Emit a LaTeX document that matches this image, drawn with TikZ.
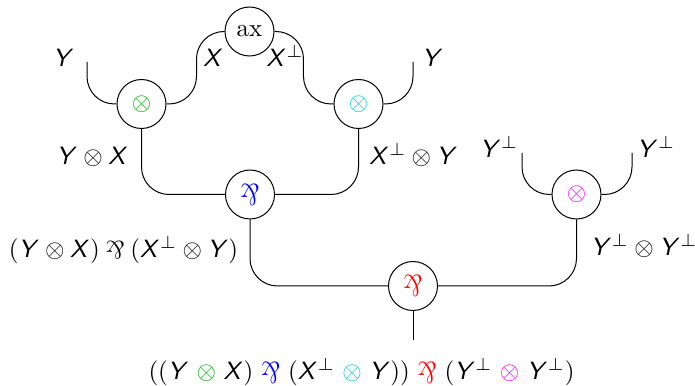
\documentclass[tikz,border=0pt]{standalone}
\usepackage{amsmath}
\usepackage{graphicx}
\DeclareMathAlphabet{\mathsfit}{OT1}{cmss}{m}{sl}
\newcommand\vX{\mathsfit{X}}
\newcommand\vY{\mathsfit{Y}}
\newcommand\mypar{\mathbin{\raisebox{-0.5pt}{\rotatebox[origin=c]{180}{\&}}}}
\newcommand\bigpar{\raisebox{-1.2pt}{\scalebox{1}[1.2]{\rotatebox[origin=c]{180}{\&}}}}
\definecolor{cg}{RGB}{0,180,0}
\definecolor{cc}{RGB}{0,205,205}
\definecolor{cm}{RGB}{255,0,255}
\definecolor{cb}{RGB}{0,0,255}
\definecolor{cr}{RGB}{255,0,0}
\newcommand\cten[1]{\mathbin{\mskip1.5mu\textcolor{#1}{\otimes}\mskip1.5mu}}
\newcommand\cpar[1]{\mathbin{\mskip1.5mu\textcolor{#1}{\bigpar}\mskip1.5mu}}
\tikzset{
  gate/.style={draw, circle, minimum size=19.6pt, inner sep=0pt},
  lab/.style={inner sep=0pt, anchor=base},
  wire/.style={rounded corners=11pt}
}
\begin{document}
\begin{tikzpicture}[x=0.4pt,y=-0.4pt]
\useasboundingbox (0,0) rectangle (695,386);
% gates
\node[gate] (ax) at (249.5,31.5) {ax};
\node[gate] (g1) at (141.5,104) {$\textcolor{cg}{\otimes}$};
\node[gate] (g2) at (358.5,104) {$\textcolor{cc}{\otimes}$};
\node[gate] (p1) at (250,194.5) {\textcolor{cb}{\bigpar}};
\node[gate] (g3) at (576.5,194.5) {$\textcolor{cm}{\otimes}$};
\node[gate] (p2) at (413,286) {\textcolor{cr}{\bigpar}};
% free ends
\coordinate (yA) at (87,62);
\coordinate (yB) at (413,62);
\coordinate (yC) at (522,153);
\coordinate (yD) at (632,153);
\coordinate (out) at (413,340);
% wires
\draw[wire] (ax.west) -| ([xshift=12pt]g1.east) -- (g1.east);
\draw[wire] (ax.east) -| ([xshift=-12pt]g2.west) -- (g2.west);
\draw[wire] (g1.west) -| (yA);
\draw[wire] (g2.east) -| (yB);
\draw[wire] (g3.west) -| (yC);
\draw[wire] (g3.east) -| (yD);
\draw[wire] (g1.south) |- (p1.west);
\draw[wire] (g2.south) |- (p1.east);
\draw[wire] (p1.south) |- (p2.west);
\draw[wire] (g3.south) |- (p2.east);
\draw (p2.south) -- (out);
% labels
\node[lab] (l1) at (63.5,67) {$\vY$};
\node[lab] (l2) at (213.5,67) {$\vX$};
\node[lab] (l3) at (285,67) {$\vX^{\perp}$};
\node[lab] (l4) at (432.5,67) {$\vY$};
\node[lab] (l5) at (92.5,165) {$\vY\otimes\vX$};
\node[lab] (l6) at (413.5,165) {$\vX^{\perp}\otimes\vY$};
\node[lab] (l7) at (123.5,258) {$(\vY\otimes\vX)\mypar(\vX^{\perp}\otimes\vY)$};
\node[lab] (l8) at (499,158) {$\vY^{\perp}$};
\node[lab] (l9) at (656,158) {$\vY^{\perp}$};
\node[lab] (l10) at (644,256) {$\vY^{\perp}\otimes\vY^{\perp}$};
\node[lab] (l11) at (361.5,380) {$((\vY\cten{cg}\vX)\cpar{cb}(\vX^{\perp}\cten{cc}\vY))\cpar{cr}(\vY^{\perp}\cten{cm}\vY^{\perp})$};
\end{tikzpicture}
\end{document}
